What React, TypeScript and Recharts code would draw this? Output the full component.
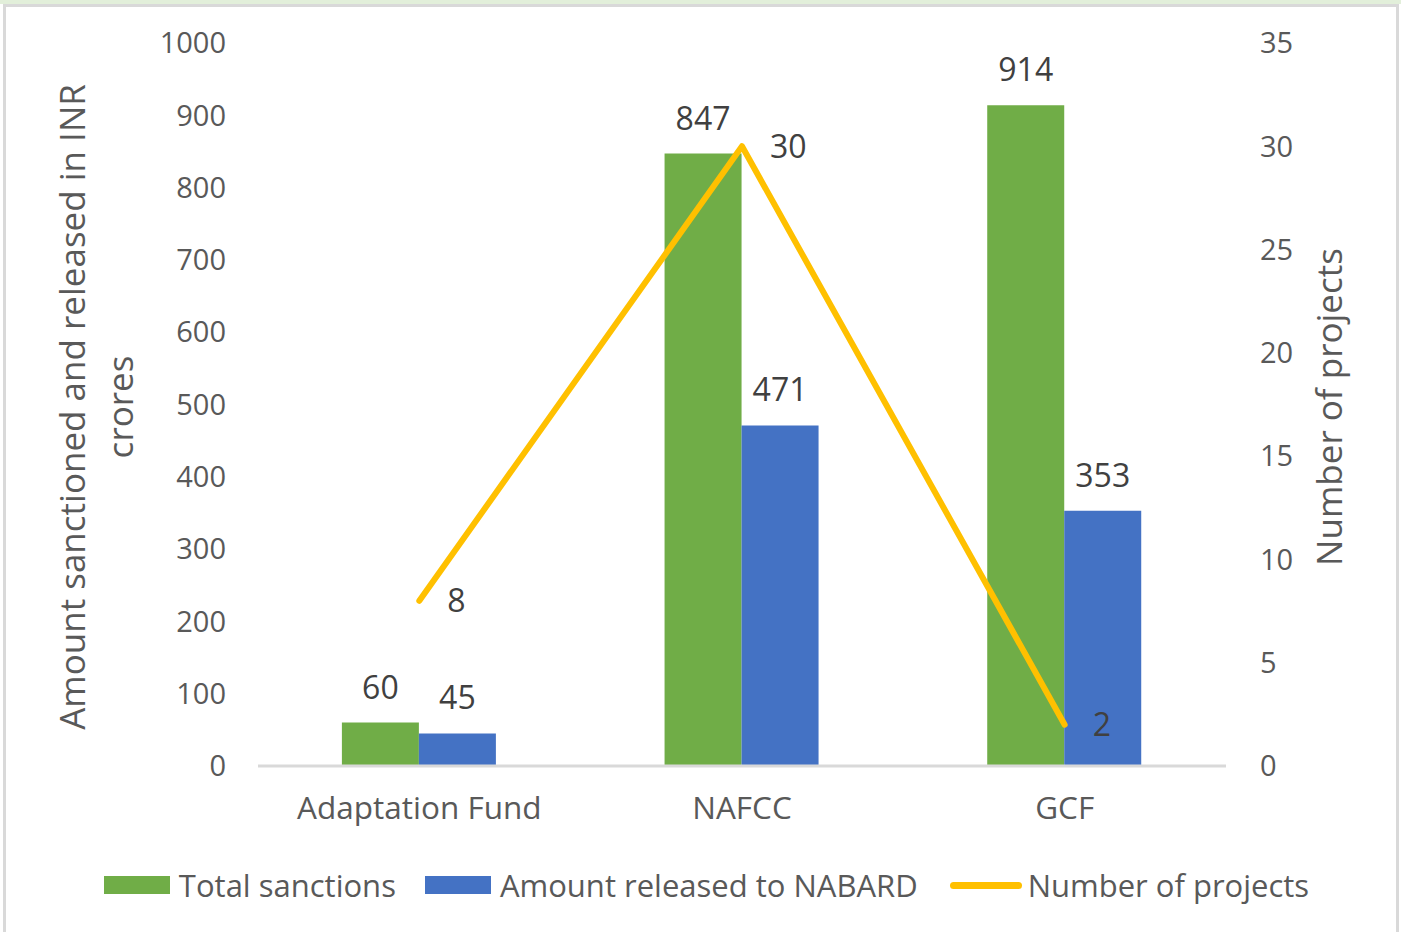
import { ComposedChart, Bar, Line, XAxis, YAxis, Legend, LabelList } from 'recharts'

const categories = ['Adaptation Fund', 'NAFCC', 'GCF']
const totalSanctions = [60, 847, 914]
const amountReleased = [45, 471, 353]
const numberOfProjects = [8, 30, 2]
const leftTicks = [0, 100, 200, 300, 400, 500, 600, 700, 800, 900, 1000]
const rightTicks = [0, 5, 10, 15, 20, 25, 30, 35]

const data = categories.map((name, i) => ({
  name,
  total: totalSanctions[i],
  released: amountReleased[i],
  projects: numberOfProjects[i],
}))

const FONT = '"Open Sans", sans-serif'
const TICK = '#595959'
const LABEL = '#404040'

const legendItems = [
  { label: 'Total sanctions', color: '#70AD47', type: 'rect' },
  { label: 'Amount released to NABARD', color: '#4472C4', type: 'rect' },
  { label: 'Number of projects', color: '#FFC000', type: 'line' },
]

function ChartLegend() {
  return (
    <div style={{ display: 'flex', justifyContent: 'center', alignItems: 'center', height: 60,
      fontFamily: FONT, fontSize: 31, color: TICK, paddingLeft: 12 }}>
      {legendItems.map((it, i) => (
        <div key={i} style={{ display: 'flex', alignItems: 'center', marginLeft: i === 0 ? 0 : i === 1 ? 29 : 32 }}>
          {it.type === 'rect'
            ? <span style={{ width: 66, height: 18, background: it.color, marginRight: 9 }} />
            : <span style={{ width: 72, height: 7, borderRadius: 4, background: it.color, marginRight: 6 }} />}
          <span>{it.label}</span>
        </div>
      ))}
    </div>
  )
}

const LeftTitle = () => (
  <text transform="rotate(-90)" textAnchor="middle" fill={TICK}
    style={{ fontFamily: FONT, fontSize: 35 }}>
    <tspan x={-407} y={85}>Amount sanctioned and released in INR</tspan>
    <tspan x={-407} y={133}>crores</tspan>
  </text>
)

const RightTitle = () => (
  <text transform="rotate(-90)" textAnchor="middle" fill={TICK}
    style={{ fontFamily: FONT, fontSize: 35 }}>
    <tspan x={-407} y={1342}>Number of projects</tspan>
  </text>
)

export default function App() {
  return (
    <div style={{ position: 'absolute', left: 0, top: 0, width: 1401, height: 932, background: '#fff', overflow: 'hidden' }}>
      <div style={{ position: 'absolute', left: 0, top: 0, width: 1401, height: 4, background: '#E2EFDA' }} />
      <div style={{ position: 'absolute', left: 3, top: 4, width: 1390, height: 940, border: '3px solid #d9d9d9' }} />
      <div style={{ position: 'absolute', left: 0, top: 0 }}>
        <ComposedChart width={1401} height={932} data={data}
          margin={{ top: 43, right: 0, bottom: 17, left: 0 }}
          barCategoryGap="26%" barGap={0}>
          <XAxis dataKey="name" tickLine={false} tickSize={0} tickMargin={31} height={89}
            axisLine={{ stroke: '#d9d9d9', strokeWidth: 3 }}
            tick={{ fill: TICK, fontSize: 31.5, fontFamily: FONT }} />
          <YAxis yAxisId="left" width={258} domain={[0, 1000]} ticks={leftTicks}
            axisLine={false} tickLine={false} tickSize={0} tickMargin={32} interval={0}
            tick={{ fill: TICK, fontSize: 29, fontFamily: FONT }} />
          <YAxis yAxisId="right" orientation="right" width={175} domain={[0, 35]} ticks={rightTicks}
            axisLine={false} tickLine={false} tickSize={0} tickMargin={34} interval={0}
            tick={{ fill: TICK, fontSize: 29, fontFamily: FONT, textAnchor: 'start' }} />
          <Legend verticalAlign="bottom" height={60} content={() => <ChartLegend />} />
          <Bar yAxisId="left" dataKey="total" fill="#70AD47" isAnimationActive={false}>
            <LabelList dataKey="total" position="top" offset={24} fill={LABEL}
              style={{ fontFamily: FONT, fontSize: 32 }} />
          </Bar>
          <Bar yAxisId="left" dataKey="released" fill="#4472C4" isAnimationActive={false}>
            <LabelList dataKey="released" position="top" offset={24} fill={LABEL}
              style={{ fontFamily: FONT, fontSize: 32 }} />
          </Bar>
          <Line yAxisId="right" dataKey="projects" stroke="#FFC000" strokeWidth={6}
            strokeLinecap="round" strokeLinejoin="round" dot={false} isAnimationActive={false}>
            <LabelList dataKey="projects" position="right" offset={28} fill={LABEL}
              style={{ fontFamily: FONT, fontSize: 32 }} />
          </Line>
          <LeftTitle />
          <RightTitle />
        </ComposedChart>
      </div>
    </div>
  )
}
